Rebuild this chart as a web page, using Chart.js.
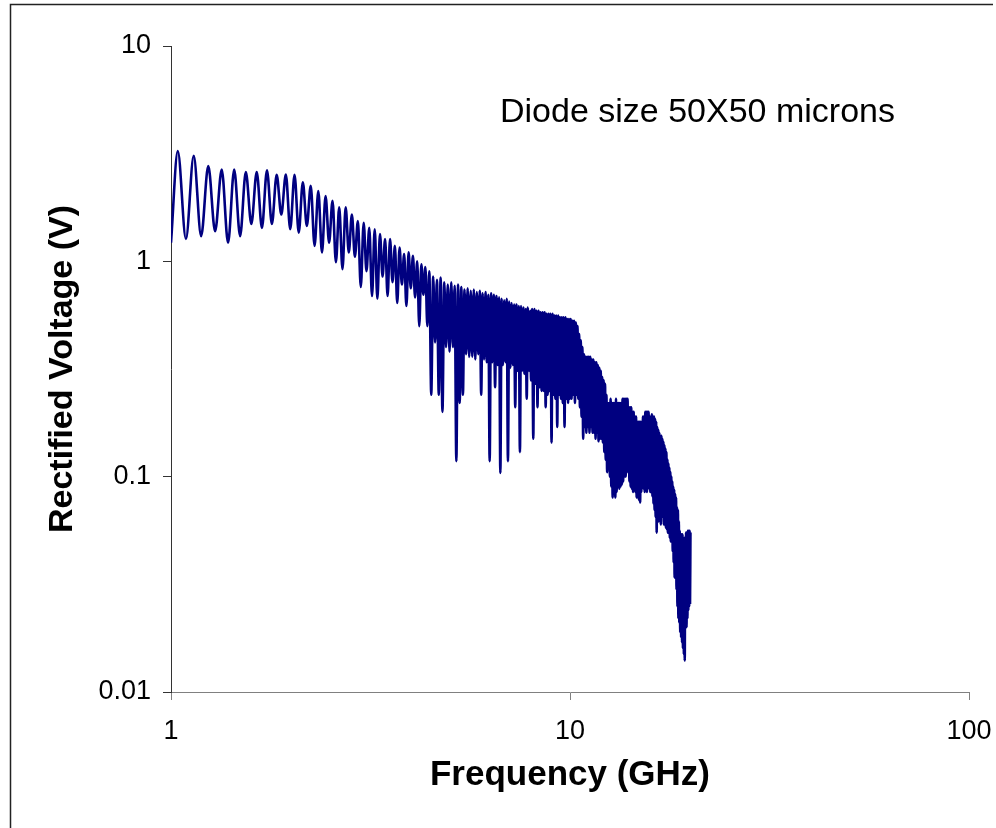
<!DOCTYPE html>
<html><head><meta charset="utf-8">
<script src="https://cdn.jsdelivr.net/npm/chart.js@4.4.1/dist/chart.umd.min.js"></script>
<style>html,body{margin:0;padding:0;background:#fff;}canvas{display:block;}</style>
</head><body>
<canvas id="c" width="996" height="828"></canvas>
<script>
// ---- data ----
const xTicks = [1, 10, 100];
const yTicks = [0.01, 0.1, 1, 10];
const noteText = 'Diode size 50X50 microns';
const xTitle = 'Frequency (GHz)';
const yTitle = 'Rectified Voltage (V)';

// 1 - 4.5 GHz (resolved oscillations)
const freqA = [1.00,1.04,1.09,1.14,1.19,1.24,1.29,1.34,1.39,1.44,
1.49,1.54,1.59,1.64,1.69,1.74,1.79,1.84,1.89,1.94,
1.99,2.04,2.09,2.14,2.19,2.24,2.29,2.34,2.39,2.44,
2.49,2.54,2.59,2.64,2.69,2.74,2.79,2.84,2.89,2.94,
2.99,3.04,3.09,3.14,3.19,3.24,3.29,3.34,3.39,3.44,
3.49,3.54,3.59,3.64,3.69,3.74,3.79,3.84,3.89,3.94,
3.99,4.04,4.09,4.14,4.19,4.24,4.29,4.34,4.39,4.44,
4.49];
const voltA = [1.22,3.25,1.27,3.09,1.31,2.77,1.38,2.67,1.22,2.67,
1.31,2.60,1.49,2.60,1.43,2.65,1.49,2.52,1.65,2.53,
1.41,2.52,1.36,2.33,1.46,2.24,1.18,2.12,1.10,2.01,
1.22,1.91,0.99,1.78,0.92,1.78,1.10,1.65,1.05,1.54,
0.76,1.51,0.90,1.43,0.69,1.41,0.67,1.34,0.85,1.27,
0.69,1.27,0.80,1.18,0.64,1.16,0.78,1.08,0.62,1.10,
0.75,1.06,0.68,1.00,0.50,0.97,0.70,0.94,0.50,0.90,
0.24];

// 4.5 - 8 GHz
const freqB = [4.54,4.59,4.64,4.69,4.74,4.79,4.84,4.89,4.94,4.99,
5.04,5.09,5.14,5.19,5.24,5.29,5.34,5.39,5.44,5.49,
5.54,5.59,5.64,5.69,5.74,5.79,5.84,5.89,5.94,5.99,
6.04,6.09,6.14,6.19,6.24,6.29,6.34,6.39,6.44,6.49,
6.54,6.59,6.64,6.69,6.74,6.79,6.84,6.89,6.94,6.99,
7.04,7.09,7.14,7.19,7.24,7.29,7.34,7.39,7.44,7.49,
7.54,7.59,7.64,7.69,7.74,7.79,7.84,7.89,7.94,7.99];
const voltB = [0.85,0.42,0.82,0.24,0.84,0.20,0.80,0.40,0.78,0.38,
0.80,0.40,0.77,0.118,0.78,0.22,0.76,0.24,0.74,0.37,
0.75,0.36,0.73,0.36,0.74,0.35,0.72,0.37,0.73,0.24,
0.71,0.35,0.72,0.34,0.70,0.118,0.71,0.34,0.70,0.26,
0.69,0.33,0.68,0.104,0.67,0.33,0.66,0.34,0.67,0.118,
0.65,0.32,0.64,0.33,0.63,0.21,0.63,0.31,0.62,0.13,
0.62,0.31,0.61,0.30,0.60,0.23,0.61,0.31,0.59,0.28];

// 8 - 20 GHz
const freqC = [8.04,8.09,8.14,8.19,8.24,8.29,8.34,8.39,8.44,8.49,
8.54,8.59,8.64,8.69,8.74,8.79,8.84,8.89,8.94,8.99,
9.04,9.09,9.14,9.19,9.24,9.29,9.34,9.39,9.44,9.49,
9.54,9.59,9.64,9.69,9.74,9.79,9.84,9.89,9.94,9.99,
10.04,10.09,10.14,10.19,10.24,10.29,10.34,10.39,10.44,10.49,
10.54,10.59,10.64,10.69,10.74,10.79,10.84,10.89,10.94,10.99,
11.04,11.09,11.14,11.19,11.24,11.29,11.34,11.39,11.44,11.49,
11.54,11.59,11.64,11.69,11.74,11.79,11.84,11.89,11.94,11.99,
12.04,12.09,12.14,12.19,12.24,12.29,12.34,12.39,12.44,12.49,
12.54,12.59,12.64,12.69,12.74,12.79,12.84,12.89,12.94,12.99,
13.04,13.09,13.14,13.19,13.24,13.29,13.34,13.39,13.44,13.49,
13.54,13.59,13.64,13.69,13.74,13.79,13.84,13.89,13.94,13.99,
14.04,14.09,14.14,14.19,14.24,14.29,14.34,14.39,14.44,14.49,
14.54,14.59,14.64,14.69,14.74,14.79,14.84,14.89,14.94,14.99,
15.04,15.09,15.14,15.19,15.24,15.29,15.34,15.39,15.44,15.49,
15.54,15.59,15.64,15.69,15.74,15.79,15.84,15.89,15.94,15.99,
16.04,16.09,16.14,16.19,16.24,16.29,16.34,16.39,16.44,16.49,
16.54,16.59,16.64,16.69,16.74,16.79,16.84,16.89,16.94,16.99,
17.04,17.09,17.14,17.19,17.24,17.29,17.34,17.39,17.44,17.49,
17.54,17.59,17.64,17.69,17.74,17.79,17.84,17.89,17.94,17.99,
18.04,18.09,18.14,18.19,18.24,18.29,18.34,18.39,18.44,18.49,
18.54,18.59,18.64,18.69,18.74,18.79,18.84,18.89,18.94,18.99,
19.04,19.09,19.14,19.19,19.24,19.29,19.34,19.39,19.44,19.49,
19.54,19.59,19.64,19.69,19.74,19.79,19.84,19.89,19.94,19.99,
20.04];
const voltC = [0.60,0.15,0.60,0.27,0.59,0.21,0.59,0.26,0.58,0.25,
0.58,0.25,0.58,0.21,0.57,0.24,0.57,0.25,0.57,0.144,
0.57,0.24,0.56,0.23,0.56,0.17,0.56,0.24,0.55,0.23,
0.55,0.22,0.55,0.17,0.55,0.23,0.54,0.22,0.54,0.23,
0.54,0.23,0.53,0.24,0.53,0.22,0.52,0.24,0.50,0.23,
0.46,0.21,0.43,0.19,0.40,0.15,0.37,0.17,0.36,0.16,
0.36,0.17,0.36,0.16,0.36,0.17,0.35,0.16,0.35,0.16,
0.34,0.15,0.34,0.16,0.33,0.146,0.32,0.15,0.31,0.15,
0.29,0.144,0.28,0.13,0.27,0.12,0.24,0.105,0.22,0.11,
0.22,0.10,0.23,0.09,0.22,0.08,0.22,0.085,0.22,0.08,
0.23,0.085,0.22,0.09,0.22,0.088,0.22,0.09,0.22,0.092,
0.23,0.095,0.23,0.10,0.23,0.10,0.23,0.105,0.23,0.106,
0.21,0.095,0.21,0.09,0.21,0.088,0.20,0.085,0.20,0.09,
0.19,0.085,0.19,0.08,0.18,0.08,0.18,0.078,0.18,0.076,
0.18,0.085,0.18,0.09,0.19,0.088,0.19,0.085,0.20,0.088,
0.20,0.085,0.20,0.09,0.20,0.088,0.19,0.085,0.19,0.085,
0.195,0.081,0.19,0.075,0.19,0.07,0.185,0.065,0.18,0.055,
0.17,0.065,0.165,0.062,0.16,0.065,0.155,0.06,0.155,0.065,
0.15,0.065,0.145,0.06,0.14,0.06,0.135,0.058,0.13,0.057,
0.12,0.055,0.115,0.055,0.11,0.052,0.105,0.05,0.10,0.05,
0.095,0.045,0.09,0.04,0.087,0.034,0.083,0.034,0.08,0.03,
0.072,0.025,0.07,0.022,0.062,0.021,0.056,0.019,0.054,0.018,
0.054,0.017,0.054,0.016,0.052,0.015,0.052,0.014,0.050,0.02,
0.055,0.02,0.055,0.022,0.056,0.024,0.056,0.025,0.056,0.026,
0.055];

// ---- build ----
const freq = freqA.concat(freqB, freqC);
const volt = voltA.concat(voltB, voltC);
const points = freq.map((f, i) => ({x: f, y: volt[i]}));

const FONT = "'Liberation Sans', Arial, Helvetica, sans-serif";

const framePlugin = {
  id: 'frame',
  beforeDraw(chart) {
    const c = chart.ctx;
    c.save();
    c.fillStyle = '#fff';
    c.fillRect(0, 0, chart.width, chart.height);
    c.strokeStyle = '#222';
    c.lineWidth = 1.5;
    c.beginPath();
    c.moveTo(10.5, 828);
    c.lineTo(10.5, 4.5);
    c.lineTo(993, 4.5);
    c.stroke();
    c.restore();
  },
  afterDraw(chart) {
    const c = chart.ctx;
    c.save();
    c.fillStyle = '#000';
    c.font = '34px ' + FONT;
    c.textBaseline = 'alphabetic';
    c.textAlign = 'left';
    c.fillText(noteText, 500, 122);
    c.restore();
  }
};

new Chart(document.getElementById('c'), {
  type: 'line',
  data: {
    datasets: [{
      data: points,
      borderColor: '#000080',
      borderWidth: 2.6,
      pointRadius: 0,
      cubicInterpolationMode: 'monotone',
      fill: false
    }]
  },
  options: {
    responsive: false,
    animation: false,
    layout: {padding: {left: 0, right: 27, top: 46, bottom: 0}},
    plugins: {legend: {display: false}, tooltip: {enabled: false}},
    scales: {
      x: {
        type: 'logarithmic',
        min: 1, max: 100,
        afterBuildTicks: s => { s.ticks = xTicks.map(v => ({value: v})); },
        afterFit: s => { s.height = 136; s.paddingLeft = 0; s.paddingRight = 0; },
        ticks: {
          color: '#000', font: {family: FONT, size: 27},
          padding: 15, maxRotation: 0, autoSkip: false,
          callback: v => String(v)
        },
        grid: {drawOnChartArea: false, drawTicks: true, tickLength: 8, color: '#808080'},
        border: {color: '#808080', width: 1},
        title: {
          display: true, text: xTitle, color: '#000',
          font: {family: FONT, size: 35, weight: 'bold'},
          padding: {top: 0, bottom: 32}
        }
      },
      y: {
        type: 'logarithmic',
        min: 0.01, max: 10,
        afterBuildTicks: s => { s.ticks = yTicks.map(v => ({value: v})); },
        afterFit: s => { s.width = 171; s.paddingTop = 0; s.paddingBottom = 0; },
        ticks: {
          color: '#000', font: {family: FONT, size: 27},
          padding: 12, autoSkip: false,
          callback: v => String(v)
        },
        grid: {drawOnChartArea: false, drawTicks: true, tickLength: 8, color: '#333'},
        border: {color: '#333', width: 1},
        title: {
          display: true, text: yTitle, color: '#000',
          font: {family: FONT, size: 34, weight: 'bold'},
          padding: {top: 42, bottom: 0}
        }
      }
    }
  },
  plugins: [framePlugin]
});
</script>
</body></html>
